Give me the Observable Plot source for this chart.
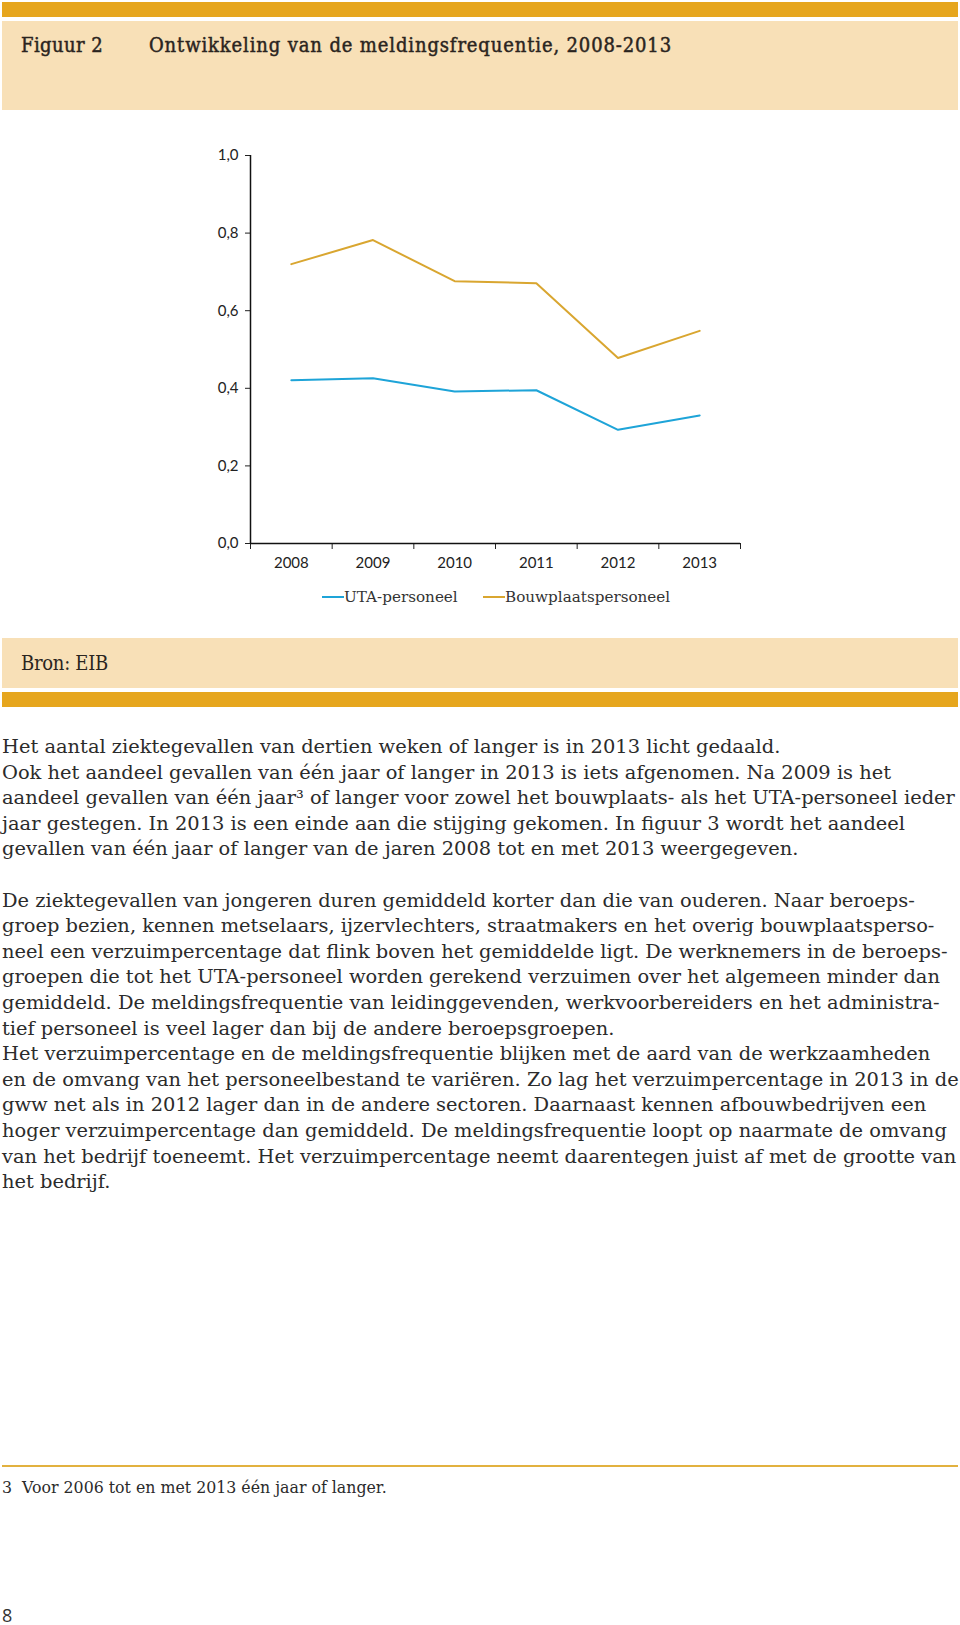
<!DOCTYPE html>
<html>
<head>
<meta charset="utf-8">
<script src="https://cdn.jsdelivr.net/npm/d3@7"></script>
<script src="https://cdn.jsdelivr.net/npm/@observablehq/plot@0.6"></script>
<style>
  html, body { margin: 0; padding: 0; background: #fff; }
  body { width: 960px; height: 1625px; position: relative; overflow: hidden; color: #222; }
  .abs { position: absolute; }
  .gold { background: #e6a61e; }
  .beige { background: #f8e0b7; }
  .head { font-family: "DejaVu Serif Condensed", "DejaVu Serif", serif; font-stretch: condensed; font-size: 20px; line-height: 24px; white-space: nowrap; color: #2a2420; }
  .semi { -webkit-text-stroke: 0.45px #2a2420; }
  #body { font-family: "DejaVu Serif", serif; font-size: 18px; line-height: 25.6px; white-space: pre; color: #2b2b2b; left: 2px; top: 734px; }
  #legend { font-family: "DejaVu Serif", serif; font-size: 15.2px; line-height: 20px; white-space: nowrap; color: #333; }
  .sw { position: absolute; height: 2px; }
  #foot { font-family: "DejaVu Serif", serif; font-size: 16px; line-height: 20px; white-space: pre; color: #2b2b2b; left: 2px; top: 1478px; }
  #pg { font-family: "Open Sans", sans-serif; font-size: 18px; line-height: 20px; left: 2px; top: 1605px; color: #333; }
  #chart { left: 0; top: 120px; }
</style>
</head>
<body>
<div class="abs gold" style="left:2px; top:2px; width:956px; height:15px;"></div>
<div class="abs beige" style="left:2px; top:21px; width:956px; height:89px;"></div>
<div class="abs head semi" id="fig" style="left:21px; top:33px;"></div>
<div class="abs head semi" id="title" style="left:149px; top:33px;"></div>

<div class="abs" id="chart"></div>
<div class="abs" id="legend" style="left:0; top:587px; width:960px; height:20px;"></div>

<div class="abs beige" style="left:2px; top:638px; width:956px; height:50px;"></div>
<div class="abs head" id="source" style="left:21px; top:651px;"></div>
<div class="abs gold" style="left:2px; top:692px; width:956px; height:15px;"></div>

<div class="abs" id="body"></div>

<div class="abs" style="left:2px; top:1465px; width:956px; height:2px; background:#e2b13f;"></div>
<div class="abs" id="foot"></div>
<div class="abs" id="pg"></div>

<script>
// ---- data ----
const years = [2008, 2009, 2010, 2011, 2012, 2013];
const utaValues = [0.421, 0.426, 0.392, 0.395, 0.293, 0.330];
const bouwValues = [0.720, 0.782, 0.676, 0.671, 0.478, 0.548];
const seriesNames = ["UTA-personeel", "Bouwplaatspersoneel"];
const seriesColors = ["#1ea4d8", "#d9a630"];
const yTicks = [0, 0.2, 0.4, 0.6, 0.8, 1.0];
const xBoundaries = [2007.5, 2008.5, 2009.5, 2010.5, 2011.5, 2012.5, 2013.5];

const figLabel = "Figuur 2";
const titleText = "Ontwikkeling van de meldingsfrequentie, 2008-2013";
const sourceText = "Bron: EIB";
const bodyLines = [
  "Het aantal ziektegevallen van dertien weken of langer is in 2013 licht gedaald.",
  "Ook het aandeel gevallen van één jaar of langer in 2013 is iets afgenomen. Na 2009 is het",
  "aandeel gevallen van één jaar³ of langer voor zowel het bouwplaats- als het UTA-personeel ieder",
  "jaar gestegen. In 2013 is een einde aan die stijging gekomen. In figuur 3 wordt het aandeel",
  "gevallen van één jaar of langer van de jaren 2008 tot en met 2013 weergegeven.",
  "",
  "De ziektegevallen van jongeren duren gemiddeld korter dan die van ouderen. Naar beroeps-",
  "groep bezien, kennen metselaars, ijzervlechters, straatmakers en het overig bouwplaatsperso-",
  "neel een verzuimpercentage dat flink boven het gemiddelde ligt. De werknemers in de beroeps-",
  "groepen die tot het UTA-personeel worden gerekend verzuimen over het algemeen minder dan",
  "gemiddeld. De meldingsfrequentie van leidinggevenden, werkvoorbereiders en het administra-",
  "tief personeel is veel lager dan bij de andere beroepsgroepen.",
  "Het verzuimpercentage en de meldingsfrequentie blijken met de aard van de werkzaamheden",
  "en de omvang van het personeelbestand te variëren. Zo lag het verzuimpercentage in 2013 in de",
  "gww net als in 2012 lager dan in de andere sectoren. Daarnaast kennen afbouwbedrijven een",
  "hoger verzuimpercentage dan gemiddeld. De meldingsfrequentie loopt op naarmate de omvang",
  "van het bedrijf toeneemt. Het verzuimpercentage neemt daarentegen juist af met de grootte van",
  "het bedrijf."
];
const footnote = "3  Voor 2006 tot en met 2013 één jaar of langer.";
const pageNumber = "8";

// ---- texts ----
document.getElementById("fig").textContent = figLabel;
document.getElementById("title").textContent = titleText;
document.getElementById("source").textContent = sourceText;
document.getElementById("foot").textContent = footnote;
document.getElementById("pg").textContent = pageNumber;

const bodyEl = document.getElementById("body");
bodyEl.textContent = bodyLines.join("\n");

function fitSpacing(el, target) {
  el.style.letterSpacing = "0px";
  const w = el.getBoundingClientRect().width;
  const n = el.textContent.length;
  const ls = Math.max(-1.5, Math.min(1.5, (target - w) / n));
  el.style.letterSpacing = ls.toFixed(3) + "px";
}

// fit body font so that the longest line spans the page width
(function () {
  const c = document.createElement("canvas").getContext("2d");
  c.font = "18px 'DejaVu Serif'";
  const w = c.measureText(bodyLines[2]).width;
  let size = 18 * 953 / w;
  size = Math.max(15, Math.min(20, size));
  bodyEl.style.fontSize = size.toFixed(2) + "px";
  c.font = "16px 'DejaVu Serif'";
  const fw = c.measureText(footnote).width;
  let fs = 16 * 385 / fw;
  fs = Math.max(13, Math.min(18, fs));
  document.getElementById("foot").style.fontSize = fs.toFixed(2) + "px";
})();
fitSpacing(document.getElementById("fig"), 82);
fitSpacing(document.getElementById("title"), 523);
fitSpacing(document.getElementById("source"), 87);

// ---- chart ----
const data = years.flatMap((yr, i) => [
  {year: yr, value: utaValues[i], series: seriesNames[0]},
  {year: yr, value: bouwValues[i], series: seriesNames[1]}
]);

const chart = Plot.plot({
  width: 960,
  height: 450,
  marginLeft: 250,
  marginRight: 220,
  marginTop: 35,
  marginBottom: 27,
  style: {fontFamily: "Lato, sans-serif", fontSize: "15px", color: "#222", background: "transparent"},
  x: {domain: [xBoundaries[0], xBoundaries[xBoundaries.length - 1]]},
  y: {domain: [0, 1]},
  color: {domain: seriesNames, range: seriesColors},
  marks: [
    Plot.axisY({ticks: yTicks, tickSize: 5, tickPadding: 7, label: null,
      tickFormat: d => d.toFixed(1).replace(".", ","), fontSize: 15}),
    Plot.axisX({ticks: xBoundaries, tickSize: 6, tickFormat: () => "", label: null}),
    Plot.axisX({ticks: years, tickSize: 0, tickPadding: 14, tickFormat: d => String(d), label: null, fontSize: 15}),
    Plot.ruleY([0], {stroke: "#111", strokeWidth: 1.5}),
    Plot.ruleX([xBoundaries[0]], {stroke: "#111", strokeWidth: 1.5}),
    Plot.line(data, {x: "year", y: "value", z: "series", stroke: "series", strokeWidth: 2})
  ]
});
document.getElementById("chart").appendChild(chart);

// ---- legend ----
const legend = document.getElementById("legend");
const legendStarts = [322, 483];
seriesNames.forEach((name, i) => {
  const sw = document.createElement("div");
  sw.className = "sw";
  sw.style.left = legendStarts[i] + "px";
  sw.style.top = "9px";
  sw.style.width = "22px";
  sw.style.background = seriesColors[i];
  legend.appendChild(sw);
  const t = document.createElement("div");
  t.className = "abs";
  t.style.left = (legendStarts[i] + 22) + "px";
  t.style.top = "0px";
  t.textContent = name;
  legend.appendChild(t);
});
</script>
</body>
</html>
